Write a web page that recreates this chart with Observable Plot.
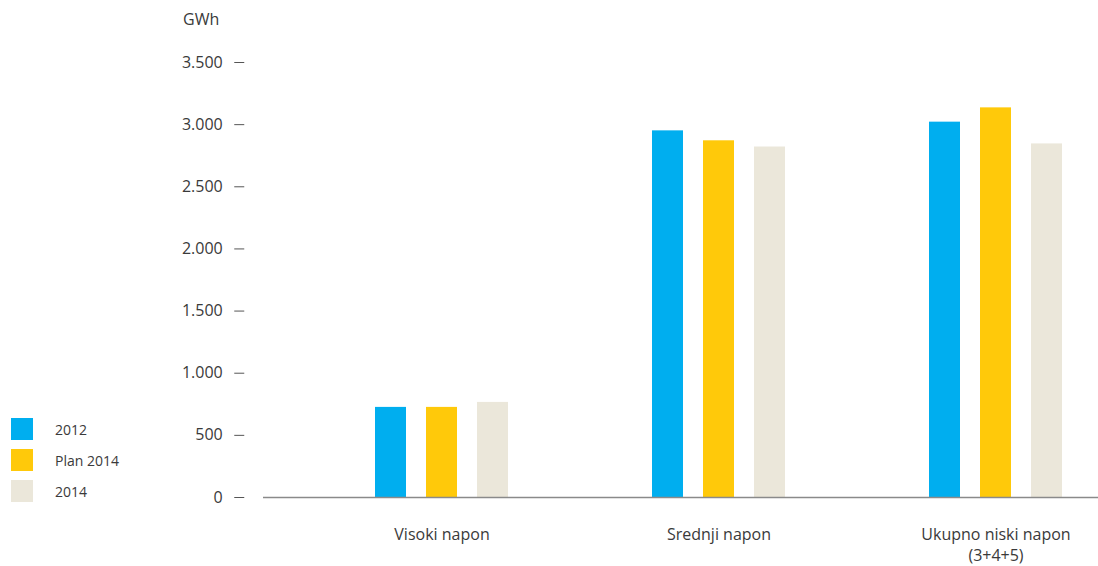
<!DOCTYPE html>
<html><head><meta charset="utf-8">
<script src="https://cdn.jsdelivr.net/npm/d3@7"></script>
<script src="https://cdn.jsdelivr.net/npm/@observablehq/plot@0.6"></script>
<style>
body{margin:0;background:#fff;font-family:"Open Sans",sans-serif;}
#wrap{position:relative;width:1098px;height:566px;}
#unit{position:absolute;left:183px;top:8px;font-size:16px;color:#3a3a3a;}
#legend{position:absolute;left:11px;top:418px;}
.item{display:flex;align-items:center;height:22px;margin-bottom:9px;font-size:14px;color:#3a3a3a;}
.sw{width:22px;height:22px;margin-right:22px;}
</style></head><body>
<div id="wrap"><div id="unit">GWh</div><div id="legend"></div></div>
<script>
const categories = ["Visoki napon", "Srednji napon", "Ukupno niski napon"];
const categoryLabels = ["Visoki napon", "Srednji napon", "Ukupno niski napon\n(3+4+5)"];
const series = ["2012", "Plan 2014", "2014"];
const values2012 = [725, 2950, 3020];
const valuesPlan2014 = [725, 2870, 3135];
const values2014 = [765, 2820, 2845];
const colors = ["#00aeef", "#ffc90a", "#ebe7da"];
const yTicks = [0, 500, 1000, 1500, 2000, 2500, 3000, 3500];

const seriesValues = [values2012, valuesPlan2014, values2014];
const data = [];
categories.forEach((c, i) => series.forEach((s, j) => data.push({category: c, series: s, value: seriesValues[j][i]})));

const hr = d3.formatLocale({decimal: ",", thousands: ".", grouping: [3], currency: ["", " kn"]});
const fmt = hr.format(",");

const plot = Plot.plot({
  width: 1098, height: 566,
  marginTop: 62, marginBottom: 69, marginLeft: 262, marginRight: 2,
  style: {fontFamily: "'Open Sans', sans-serif", fontSize: "16px", color: "#3a3a3a", background: "transparent"},
  fx: {domain: categories, range: [301.75, 1134.25], padding: 0, label: null},
  x: {domain: series, range: [333.5, 466.5], paddingInner: 20 / 51, paddingOuter: 0, axis: null},
  y: {domain: [0, 3500], range: [497, 62]},
  color: {domain: series, range: colors},
  marks: [
    Plot.barY(data, {fx: "category", x: "series", y: "value", fill: "series"}),
    Plot.frame({anchor: "bottom", facet: "super", stroke: "#8a8a8a", strokeWidth: 1.5, insetLeft: -39.75, insetRight: 2}),
    Plot.axisY({ticks: yTicks, tickFormat: fmt, tickSize: 10, tickPadding: 12, dx: -58.75, label: null, fontSize: 16, stroke: "#555"}),
    Plot.axisFx({anchor: "bottom", tickSize: 0, tickPadding: 27, tickFormat: d => categoryLabels[categories.indexOf(d)], fontSize: 16, lineHeight: 1.35, label: null})
  ]
});
document.getElementById("wrap").prepend(plot);

const legend = document.getElementById("legend");
series.forEach((s, i) => {
  const item = document.createElement("div");
  item.className = "item";
  const sw = document.createElement("div");
  sw.className = "sw";
  sw.style.background = colors[i];
  const lab = document.createElement("span");
  lab.textContent = s;
  item.append(sw, lab);
  legend.append(item);
});
</script>
</body></html>
